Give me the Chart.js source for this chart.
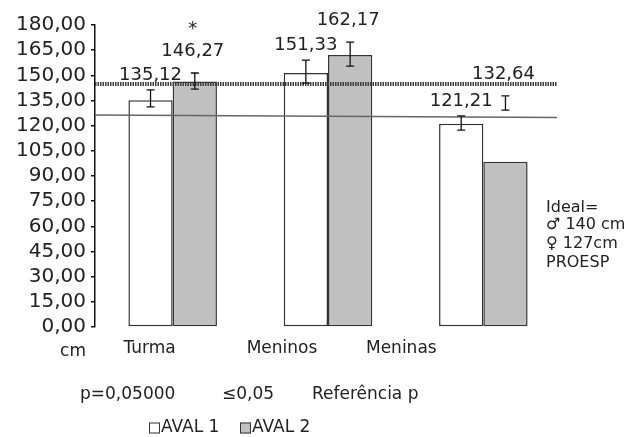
<!DOCTYPE html>
<html>
<head>
<meta charset="utf-8">
<script src="https://cdn.jsdelivr.net/npm/chart.js@4"></script>
<style>
  html, body { margin: 0; padding: 0; background: #fff; }
</style>
</head>
<body>
<canvas id="chart" width="632" height="437"></canvas>
<script>
const categories = ['Turma', 'Meninos', 'Meninas'];
const aval1 = [135.12, 151.33, 121.21];
const aval2 = [146.27, 162.17, 98.5];
// error bar ends
const aval1Low = [131.2, 145.4, 117.4];
const aval1High = [141.3, 159.1, 125.8];
const aval2Low = [141.8, 155.5, 129.3];
const aval2High = [151.4, 169.8, 137.7];
const aval1Labels = ['135,12', '151,33', '121,21'];
const aval2Labels = ['146,27', '162,17', '132,64'];
const aval2Marks = ['*', '', ''];
// reference lines (start, end)
const boysLine = [144.8, 144.8];
const girlsLine = [126.4, 124.8];
const idealText = ['Ideal=', '\u2642 140 cm', '\u2640 127cm', 'PROESP'];
const noteText = ['p=0,05000', '\u22640,05', 'Refer\u00eancia p'];

const FONT = '"DejaVu Sans", sans-serif';
const labelShift = [-23, -46, -82];

const extras = {
  id: 'extras',
  afterDatasetsDraw(chart) {
    const {ctx, chartArea, scales: {x, y}} = chart;
    ctx.save();
    // thin line (girls)
    ctx.strokeStyle = '#666';
    ctx.lineWidth = 1.5;
    ctx.beginPath();
    ctx.moveTo(chartArea.left, y.getPixelForValue(girlsLine[0]));
    ctx.lineTo(chartArea.right - 4, y.getPixelForValue(girlsLine[1]));
    ctx.stroke();
    // thick dotted line (boys)
    ctx.strokeStyle = '#3c3c3c';
    ctx.lineWidth = 4;
    ctx.setLineDash([1.5, 1]);
    ctx.beginPath();
    ctx.moveTo(chartArea.left, y.getPixelForValue(boysLine[0]));
    ctx.lineTo(chartArea.right - 4, y.getPixelForValue(boysLine[1]));
    ctx.stroke();
    ctx.setLineDash([]);

    // error bars + value labels
    chart.data.datasets.forEach((ds, i) => {
      const meta = chart.getDatasetMeta(i);
      meta.data.forEach((bar, j) => {
        const top = y.getPixelForValue(ds.errHigh[j]);
        const bot = y.getPixelForValue(ds.errLow[j]);
        ctx.strokeStyle = '#111';
        ctx.lineWidth = 1.3;
        ctx.beginPath();
        ctx.moveTo(bar.x, top); ctx.lineTo(bar.x, bot);
        ctx.moveTo(bar.x - 4, top); ctx.lineTo(bar.x + 4, top);
        ctx.moveTo(bar.x - 4, bot); ctx.lineTo(bar.x + 4, bot);
        ctx.stroke();
        ctx.fillStyle = '#222';
        ctx.font = '18px ' + FONT;
        ctx.textAlign = 'center';
        ctx.textBaseline = 'alphabetic';
        const base = top - ds.labelGap;
        ctx.fillText(ds.valueLabels[j], bar.x + ds.labelShiftX, base);
        if (ds.marks && ds.marks[j]) ctx.fillText(ds.marks[j], bar.x + ds.labelShiftX, base - 22);
      });
    });
    ctx.restore();
  },
  afterDraw(chart) {
    const {ctx, chartArea, scales: {x}} = chart;
    ctx.save();
    ctx.fillStyle = '#222';
    ctx.textBaseline = 'middle';
    ctx.textAlign = 'center';
    ctx.font = '17px ' + FONT;
    categories.forEach((c, i) => {
      ctx.fillText(c, x.getPixelForValue(i) + labelShift[i], chartArea.bottom + 22);
    });
    ctx.fillText('cm', 73, chartArea.bottom + 25);

    // note line
    ctx.textAlign = 'left';
    const noteX = [80, 222, 312];
    noteText.forEach((t, i) => ctx.fillText(t, noteX[i], chartArea.bottom + 68));

    // legend
    const legX = [149, 240];
    chart.data.datasets.forEach((ds, i) => {
      const ly = chartArea.bottom + 101;
      ctx.fillStyle = ds.backgroundColor;
      ctx.fillRect(legX[i], ly - 5.5, 11, 11);
      ctx.strokeStyle = '#333';
      ctx.lineWidth = 1;
      ctx.strokeRect(legX[i] + 0.5, ly - 5, 10, 10);
      ctx.fillStyle = '#222';
      ctx.fillText(ds.label, legX[i] + 12, ly);
    });

    // ideal note at right
    ctx.font = '16px ' + FONT;
    const iy = [208, 225, 244, 263];
    idealText.forEach((t, i) => ctx.fillText(t, 546, iy[i]));
    ctx.restore();
  }
};

new Chart(document.getElementById('chart'), {
  type: 'bar',
  data: {
    labels: categories,
    datasets: [
      {
        label: 'AVAL 1',
        data: aval1,
        errLow: aval1Low,
        errHigh: aval1High,
        valueLabels: aval1Labels,
        labelGap: 10,
        labelShiftX: 0,
        backgroundColor: '#ffffff',
        borderColor: '#333',
        borderWidth: 1.5,
        borderSkipped: false
      },
      {
        label: 'AVAL 2',
        data: aval2,
        errLow: aval2Low,
        errHigh: aval2High,
        valueLabels: aval2Labels,
        marks: aval2Marks,
        labelGap: 17,
        labelShiftX: -2,
        backgroundColor: '#c0c0c0',
        borderColor: '#333',
        borderWidth: 1.5,
        borderSkipped: false
      }
    ]
  },
  options: {
    responsive: false,
    devicePixelRatio: 1,
    animation: false,
    layout: { padding: { left: 0, right: 71, top: 25, bottom: 0 } },
    categoryPercentage: 0.57,
    barPercentage: 1,
    plugins: {
      legend: { display: false },
      tooltip: { enabled: false }
    },
    scales: {
      x: {
        grid: { display: false },
        border: { display: false },
        ticks: { display: false },
        afterFit(scale) { scale.height = 110; }
      },
      y: {
        min: 0,
        max: 180,
        ticks: {
          stepSize: 15,
          autoSkip: false,
          color: '#222',
          padding: 5,
          font: { family: FONT, size: 20 },
          callback: v => v.toFixed(2).replace('.', ',')
        },
        grid: { drawOnChartArea: false, color: '#111', tickLength: 4, lineWidth: 1.5 },
        border: { color: '#111', width: 1.5 },
        afterFit(scale) { scale.width = 95; }
      }
    }
  },
  plugins: [extras]
});
</script>
</body>
</html>
